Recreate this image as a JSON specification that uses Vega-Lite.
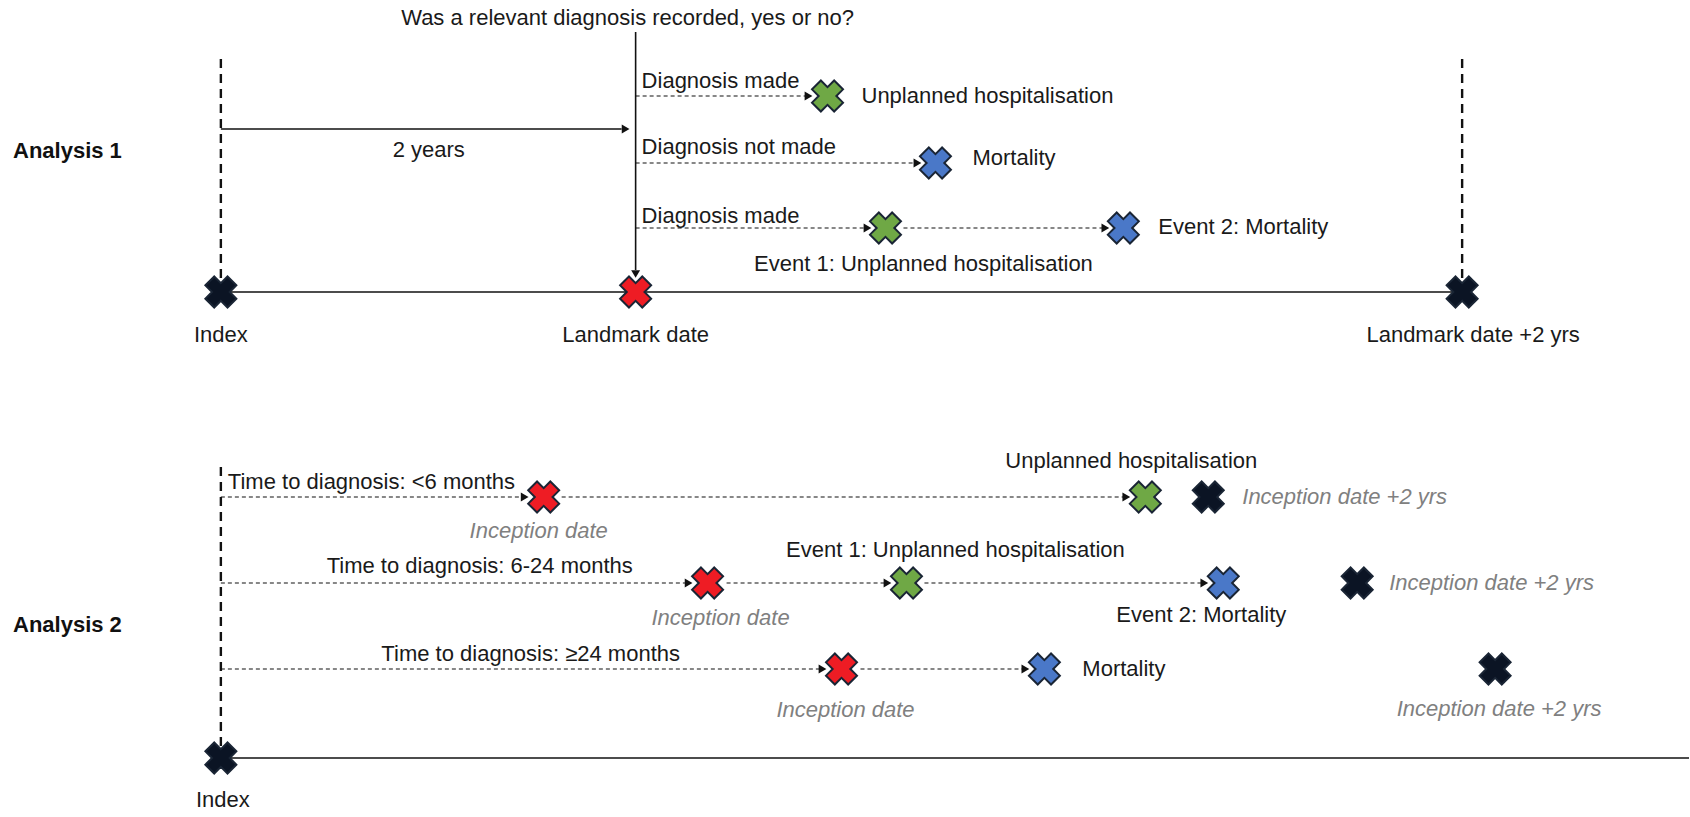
{
  "$schema": "https://vega.github.io/schema/vega-lite/v6.json",
  "width": 1690,
  "height": 817,
  "padding": 0,
  "autosize": {"type": "fit", "contains": "padding"},
  "background": "white",
  "config": {"view": {"stroke": null}},
  "datasets": {
    "solid": [
      {"x": 221, "y": 129, "x2": 622, "y2": 129},
      {"x": 636, "y": 32, "x2": 636, "y2": 270},
      {"x": 221, "y": 292, "x2": 1463, "y2": 292},
      {"x": 221, "y": 758, "x2": 1690, "y2": 758}
    ],
    "thick": [
      {"x": 221, "y": 59, "x2": 221, "y2": 282},
      {"x": 1463, "y": 59, "x2": 1463, "y2": 282},
      {"x": 221, "y": 467, "x2": 221, "y2": 746}
    ],
    "thin": [
      {"x": 636, "y": 96, "x2": 806, "y2": 96},
      {"x": 636, "y": 163, "x2": 915, "y2": 163},
      {"x": 636, "y": 228, "x2": 865, "y2": 228},
      {"x": 904, "y": 228, "x2": 1103, "y2": 228},
      {"x": 221, "y": 497, "x2": 522, "y2": 497},
      {"x": 562, "y": 497, "x2": 1124, "y2": 497},
      {"x": 221, "y": 583, "x2": 686, "y2": 583},
      {"x": 727, "y": 583, "x2": 885, "y2": 583},
      {"x": 925, "y": 583, "x2": 1202, "y2": 583},
      {"x": 221, "y": 669, "x2": 820, "y2": 669},
      {"x": 861, "y": 669, "x2": 1023, "y2": 669}
    ],
    "arrowsRight": [
      {"x": 626, "y": 129},
      {"x": 809, "y": 96},
      {"x": 918, "y": 163},
      {"x": 868, "y": 228},
      {"x": 1106, "y": 228},
      {"x": 525, "y": 497},
      {"x": 1127, "y": 497},
      {"x": 689, "y": 583},
      {"x": 888, "y": 583},
      {"x": 1205, "y": 583},
      {"x": 823, "y": 669},
      {"x": 1026, "y": 669}
    ],
    "arrowsDown": [
      {"x": 636, "y": 274}
    ],
    "crosses": [
      {"x": 221, "y": 292, "kind": "date"},
      {"x": 636, "y": 292, "kind": "inception"},
      {"x": 1463, "y": 292, "kind": "date"},
      {"x": 828, "y": 96, "kind": "hospitalisation"},
      {"x": 936, "y": 163, "kind": "mortality"},
      {"x": 886, "y": 228, "kind": "hospitalisation"},
      {"x": 1124, "y": 228, "kind": "mortality"},
      {"x": 544, "y": 497, "kind": "inception"},
      {"x": 1146, "y": 497, "kind": "hospitalisation"},
      {"x": 1209, "y": 497, "kind": "date"},
      {"x": 708, "y": 583, "kind": "inception"},
      {"x": 907, "y": 583, "kind": "hospitalisation"},
      {"x": 1224, "y": 583, "kind": "mortality"},
      {"x": 1358, "y": 583, "kind": "date"},
      {"x": 842, "y": 669, "kind": "inception"},
      {"x": 1045, "y": 669, "kind": "mortality"},
      {"x": 1496, "y": 669, "kind": "date"},
      {"x": 221, "y": 758, "kind": "date"}
    ],
    "textLeft": [
      {"x": 642, "y": 81, "label": "Diagnosis made"},
      {"x": 862, "y": 96, "label": "Unplanned hospitalisation"},
      {"x": 642, "y": 147, "label": "Diagnosis not made"},
      {"x": 973, "y": 158, "label": "Mortality"},
      {"x": 642, "y": 216, "label": "Diagnosis made"},
      {"x": 1159, "y": 227, "label": "Event 2: Mortality"},
      {"x": 228, "y": 482, "label": "Time to diagnosis: <6 months"},
      {"x": 1083, "y": 669, "label": "Mortality"}
    ],
    "textCenter": [
      {"x": 628, "y": 18, "label": "Was a relevant diagnosis recorded, yes or no?"},
      {"x": 429, "y": 150, "label": "2 years"},
      {"x": 924, "y": 264, "label": "Event 1: Unplanned hospitalisation"},
      {"x": 221, "y": 335, "label": "Index"},
      {"x": 636, "y": 335, "label": "Landmark date"},
      {"x": 1474, "y": 335, "label": "Landmark date +2 yrs"},
      {"x": 1132, "y": 461, "label": "Unplanned hospitalisation"},
      {"x": 480, "y": 566, "label": "Time to diagnosis: 6-24 months"},
      {"x": 956, "y": 550, "label": "Event 1: Unplanned hospitalisation"},
      {"x": 1202, "y": 615, "label": "Event 2: Mortality"},
      {"x": 531, "y": 654, "label": "Time to diagnosis: ≥24 months"},
      {"x": 223, "y": 800, "label": "Index"}
    ],
    "textBold": [
      {"x": 13, "y": 151, "label": "Analysis 1"},
      {"x": 13, "y": 625, "label": "Analysis 2"}
    ],
    "italicCenter": [
      {"x": 539, "y": 531, "label": "Inception date"},
      {"x": 721, "y": 618, "label": "Inception date"},
      {"x": 846, "y": 710, "label": "Inception date"},
      {"x": 1500, "y": 709, "label": "Inception date +2 yrs"}
    ],
    "italicLeft": [
      {"x": 1243, "y": 497, "label": "Inception date +2 yrs"},
      {"x": 1390, "y": 583, "label": "Inception date +2 yrs"}
    ]
  },
  "encoding": {
    "x": {"field": "x", "type": "quantitative", "scale": {"domain": [0, 1690], "nice": false, "zero": false}, "axis": null},
    "y": {"field": "y", "type": "quantitative", "scale": {"domain": [0, 817], "nice": false, "zero": false, "reverse": true}, "axis": null}
  },
  "layer": [
    {
      "data": {"name": "solid"},
      "mark": {"type": "rule", "color": "#111111", "strokeWidth": 1.6},
      "encoding": {"x2": {"field": "x2"}, "y2": {"field": "y2"}}
    },
    {
      "data": {"name": "thick"},
      "mark": {"type": "rule", "color": "#111111", "strokeWidth": 2.4, "strokeDash": [9, 6]},
      "encoding": {"x2": {"field": "x2"}, "y2": {"field": "y2"}}
    },
    {
      "data": {"name": "thin"},
      "mark": {"type": "rule", "color": "#111111", "strokeWidth": 1.2, "strokeDash": [4, 3]},
      "encoding": {"x2": {"field": "x2"}, "y2": {"field": "y2"}}
    },
    {
      "data": {"name": "arrowsRight"},
      "mark": {"type": "point", "shape": "triangle-right", "filled": true, "color": "#111111", "size": 80, "opacity": 1}
    },
    {
      "data": {"name": "arrowsDown"},
      "mark": {"type": "point", "shape": "triangle-down", "filled": true, "color": "#111111", "size": 80, "opacity": 1}
    },
    {
      "data": {"name": "crosses"},
      "mark": {"type": "point", "shape": "cross", "angle": 45, "size": 980, "filled": true, "stroke": "#1a2535", "strokeWidth": 2, "opacity": 1},
      "encoding": {
        "fill": {
          "field": "kind",
          "type": "nominal",
          "scale": {"domain": ["date", "inception", "hospitalisation", "mortality"], "range": ["#0b1424", "#ee1c24", "#6fa845", "#4a78c8"]},
          "legend": null
        }
      }
    },
    {
      "data": {"name": "textLeft"},
      "mark": {"type": "text", "align": "left", "baseline": "middle", "font": "Liberation Sans", "fontSize": 22, "color": "#1a1a1a"},
      "encoding": {"text": {"field": "label"}}
    },
    {
      "data": {"name": "textCenter"},
      "mark": {"type": "text", "align": "center", "baseline": "middle", "font": "Liberation Sans", "fontSize": 22, "color": "#1a1a1a"},
      "encoding": {"text": {"field": "label"}}
    },
    {
      "data": {"name": "textBold"},
      "mark": {"type": "text", "align": "left", "baseline": "middle", "font": "Liberation Sans", "fontSize": 22, "fontWeight": "bold", "color": "#111111"},
      "encoding": {"text": {"field": "label"}}
    },
    {
      "data": {"name": "italicCenter"},
      "mark": {"type": "text", "align": "center", "baseline": "middle", "font": "Liberation Sans", "fontSize": 22, "fontStyle": "italic", "color": "#808080"},
      "encoding": {"text": {"field": "label"}}
    },
    {
      "data": {"name": "italicLeft"},
      "mark": {"type": "text", "align": "left", "baseline": "middle", "font": "Liberation Sans", "fontSize": 22, "fontStyle": "italic", "color": "#808080"},
      "encoding": {"text": {"field": "label"}}
    }
  ]
}
